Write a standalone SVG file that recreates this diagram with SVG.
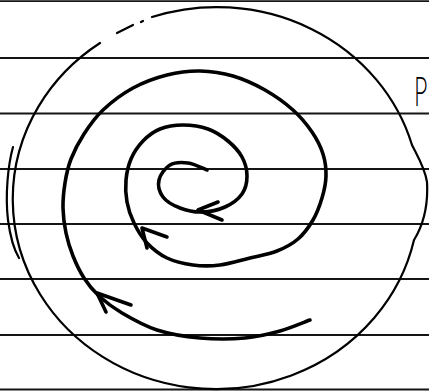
<svg xmlns="http://www.w3.org/2000/svg" width="429" height="391" viewBox="0 0 429 391">
  <style>
    .rule { stroke: #151515; stroke-width: 1.8; fill: none; }
    .circ { stroke: #000; stroke-width: 2.2; fill: none; stroke-linecap: round; stroke-linejoin: round; }
    .spiral { stroke: #000; stroke-width: 3.6; fill: none; stroke-linecap: round; stroke-linejoin: round; }
    .letter { font-family: Lato, "Liberation Sans", sans-serif; font-weight: 300; font-size: 42px; fill: #000; }
  </style>
  <rect width="429" height="391" fill="#fff"/>
  <g id="ruled-lines">
    <line class="rule" x1="0" y1="1.2" x2="429" y2="1.2"/>
    <line class="rule" x1="0" y1="58" x2="429" y2="58"/>
    <line class="rule" x1="0" y1="113.5" x2="429" y2="113.5"/>
    <line class="rule" x1="0" y1="169" x2="429" y2="169"/>
    <line class="rule" x1="0" y1="224" x2="429" y2="224"/>
    <line class="rule" x1="0" y1="279" x2="429" y2="279"/>
    <line class="rule" x1="0" y1="335" x2="429" y2="335"/>
    <line class="rule" x1="0" y1="389.5" x2="429" y2="389.5"/>
  </g>
  <g id="outer-circle">
    <path class="circ" d="M152,17 A203,190 0 0 1 412,145 C418,157 425,168 427,182 C428,200 425,222 414,240 A203,190 0 1 1 100,43"/>
    <path class="circ" d="M117,33 L133,25"/>
    <path class="circ" d="M141,22 L143,21"/>
    <path class="circ" stroke-width="1.6" d="M13,147 C8,165 5,195 8,220 C10,235 13,248 19,258"/>
  </g>
  <g id="spiral">
    <path class="spiral" d="M207,170 C203.8,168.8 194.2,163.8 188,163 C181.8,162.2 174.8,162.2 170,165 C165.2,167.8 160.2,174.7 159,180 C157.8,185.3 159.5,192.3 163,197 C166.5,201.7 173.5,205.5 180,208 C186.5,210.5 194.5,212.2 202,212 C209.5,211.8 218.3,210 225,207 C231.7,204 238.3,199.2 242,194 C245.7,188.8 247,182.2 247,176 C247,169.8 245.2,162.8 242,157 C238.8,151.2 233.7,145.7 228,141 C222.3,136.3 215.5,131.7 208,129 C200.5,126.3 191,125 183,125 C175,125 166.7,126.3 160,129 C153.3,131.7 147.8,136 143,141 C138.2,146 133.8,152.5 131,159 C128.2,165.5 126.7,172.8 126,180 C125.3,187.2 125.7,194.8 127,202 C128.3,209.2 130.7,216.2 134,223 C137.3,229.8 141.5,237.2 147,243 C152.5,248.8 159.3,254.3 167,258 C174.7,261.7 184.2,263.8 193,265 C201.8,266.2 210.5,266.2 220,265 C229.5,263.8 240.5,260.3 250,258 C259.5,255.7 269,254.2 277,251 C285,247.8 292,244.2 298,239 C304,233.8 309,226.8 313,220 C317,213.2 319.8,205.3 322,198 C324.2,190.7 325.8,183.3 326,176 C326.2,168.7 325.3,161.3 323,154 C320.7,146.7 317,139.3 312,132 C307,124.7 300.8,117 293,110 C285.2,103 275,95.7 265,90 C255,84.3 243.8,79.2 233,76 C222.2,72.8 211,71.2 200,71 C189,70.8 178.2,72.2 167,75 C155.8,77.8 143.7,82.2 133,88 C122.3,93.8 111.2,102.3 103,110 C94.8,117.7 89.3,125.8 84,134 C78.7,142.2 74.2,150.8 71,159 C67.8,167.2 66.3,174.8 65,183 C63.7,191.2 62.8,199.7 63,208 C63.2,216.3 64.3,225 66,233 C67.7,241 70,248.5 73,256 C76,263.5 79.7,271.3 84,278 C88.3,284.7 92.7,290.2 99,296 C105.3,301.8 112.3,307.3 122,313 C131.7,318.7 144,325.8 157,330 C170,334.2 185.3,336.7 200,338 C214.7,339.3 231.7,339.2 245,338 C258.3,336.8 269.2,334 280,331 C290.8,328 305,321.8 310,320"/>
  </g>
  <g id="arrows">
    <path class="spiral" d="M131,305 L97,293 L106,312"/>
    <path class="spiral" d="M167,237 L142,228 L147,248"/>
    <path class="spiral" d="M218,202 L198,210 L222,220"/>
  </g>
  <g id="label">
    <text class="letter" transform="translate(414,106) scale(0.55,1)" x="0" y="0">P</text>
  </g>
</svg>
